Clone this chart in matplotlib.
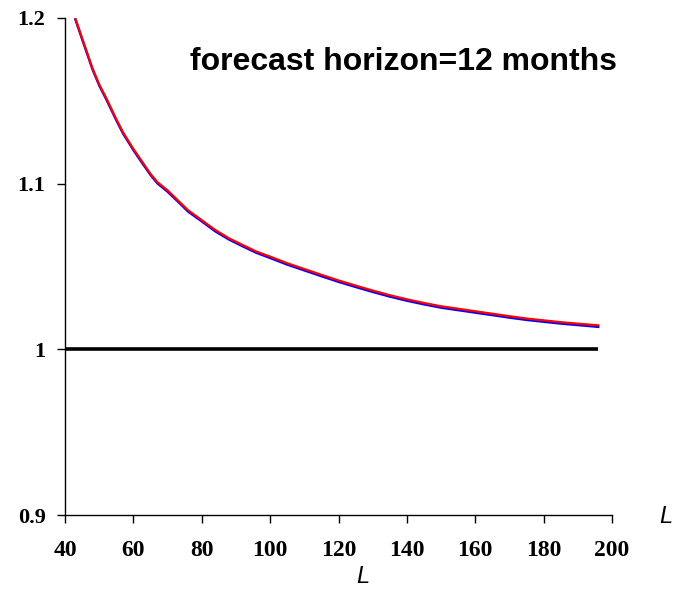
import matplotlib
matplotlib.use('Agg')
import matplotlib.pyplot as plt

# window length L and the two ratio curves
L_vals = [43, 45, 48, 50, 52, 55, 57, 60, 62, 65, 67, 70, 73, 76, 80, 84, 88, 92, 96,
          100, 105, 110, 115, 120, 125, 130, 135, 140, 145, 150, 155, 160, 165, 170,
          175, 180, 185, 190, 196]
red_vals = [1.200, 1.188, 1.170, 1.160, 1.152, 1.139, 1.131, 1.121, 1.115, 1.106, 1.101,
            1.096, 1.090, 1.084, 1.078, 1.072, 1.067, 1.063, 1.059, 1.056, 1.052, 1.0485,
            1.045, 1.0416, 1.0385, 1.0355, 1.0327, 1.0302, 1.028, 1.026, 1.0245, 1.023,
            1.0215, 1.020, 1.0186, 1.0175, 1.0164, 1.0155, 1.0145]
blue_vals = [1.1992, 1.1871, 1.1691, 1.1592, 1.1511, 1.1382, 1.1301, 1.1202, 1.1141,
             1.1052, 1.1002, 1.0951, 1.0892, 1.0831, 1.0772, 1.0711, 1.0662, 1.0621,
             1.0582, 1.0551, 1.0511, 1.0476, 1.0441, 1.0407, 1.0376, 1.0346, 1.0318,
             1.0293, 1.0271, 1.0251, 1.0236, 1.0221, 1.0206, 1.0191, 1.0177, 1.0166,
             1.0155, 1.0146, 1.0135]
ref_L = [40, 196]
ref_y = [1.0, 1.0]

x_ticks = [40, 60, 80, 100, 120, 140, 160, 180, 200]
y_ticks = [0.9, 1.0, 1.1, 1.2]
y_labels = ['0.9', '1', '1.1', '1.2']

fig = plt.figure(figsize=(6.77, 5.90), dpi=100)
ax = fig.add_axes([0.096, 0.1271, 0.808, 0.8424])

ax.plot(ref_L, ref_y, color='black', linewidth=2.6, solid_capstyle='butt')
ax.plot(L_vals, blue_vals, color='blue', linewidth=1.6)
ax.plot(L_vals, red_vals, color='red', linewidth=1.6)

ax.set_xlim(40, 200)
ax.set_ylim(0.9, 1.2)
ax.spines['top'].set_visible(False)
ax.spines['right'].set_visible(False)
ax.spines['left'].set_linewidth(1.0)
ax.spines['bottom'].set_linewidth(1.0)

ax.set_xticks(x_ticks)
ax.set_xticklabels([str(t) for t in x_ticks], fontfamily='Liberation Serif',
                   fontweight='bold', fontsize=17)
ax.set_yticks(y_ticks)
ax.set_yticklabels(y_labels, fontfamily='Liberation Serif', fontweight='bold', fontsize=16)
ax.tick_params(axis='x', direction='out', length=6, width=1.0, pad=12)
ax.tick_params(axis='y', direction='out', length=6, width=1.0, pad=8)

fig.text(0.2807, 0.881, 'forecast horizon=12 months', fontfamily='Liberation Sans',
         fontweight='bold', fontsize=23, ha='left', va='baseline')
fig.text(0.9838, 0.1254, 'L', fontfamily='Liberation Sans', fontstyle='italic',
         fontsize=17, ha='center', va='center')
fig.text(0.536, 0.0237, 'L', fontfamily='Liberation Sans', fontstyle='italic',
         fontsize=17, ha='center', va='center')

fig.savefig('out.png', dpi=100)
